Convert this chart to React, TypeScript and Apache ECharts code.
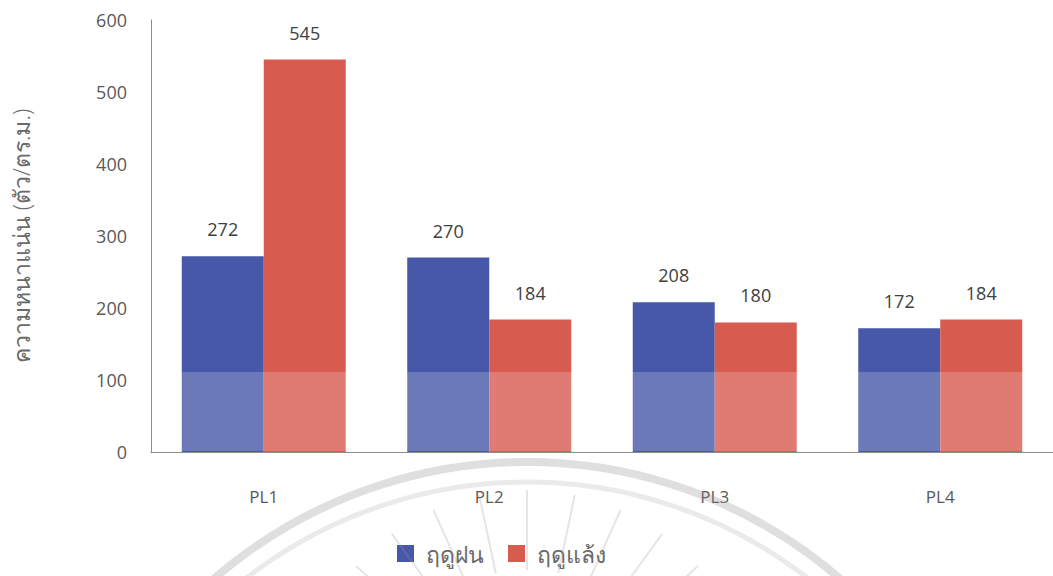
import React, { useEffect, useRef } from "react";
import * as echarts from "echarts";

const categories = ["PL1", "PL2", "PL3", "PL4"];
const rainySeason = [272, 270, 208, 172];
const drySeason = [545, 184, 180, 184];
const seriesNames = ["ฤดูฝน", "ฤดูแล้ง"];
const yAxisName = "ความหนาแน่น (ตัว/ตร.ม.)";

const FONT = "'Open Sans', 'Noto Sans', 'DejaVu Sans', sans-serif";

export default function App() {
  const ref = useRef<HTMLDivElement>(null);
  useEffect(() => {
    if (!ref.current) return;
    const chart = echarts.init(ref.current, null, { renderer: "svg" });
    const rays: any[] = [];
    const rayAngles = [-150, -138, -126, -114, -102, -90, -78, -66, -54, -42, -30];
    rayAngles.forEach((a) => {
      const rad = (a * Math.PI) / 180;
      const cx = 527, cy = 720;
      rays.push({
        type: "line",
        z: 100,
        silent: true,
        shape: {
          x1: cx + Math.cos(rad) * 150,
          y1: cy + Math.sin(rad) * 150,
          x2: cx + Math.cos(rad) * 230,
          y2: cy + Math.sin(rad) * 230,
        },
        style: { stroke: "rgba(150,150,150,0.25)", lineWidth: 2 },
      });
    });
    chart.setOption({
      animation: false,
      backgroundColor: "#ffffff",
      textStyle: { fontFamily: FONT },
      grid: { left: 151, top: 20, width: 904, height: 432, containLabel: false },
      legend: {
        data: seriesNames,
        bottom: 6,
        left: 392,
        itemWidth: 17,
        itemHeight: 17,
        itemGap: 24,
        icon: "rect",
        textStyle: {
          color: "#6a6a6a",
          fontSize: 23,
          fontFamily: FONT,
          fontWeight: 300,
          padding: [0, 0, 0, 7],
        },
      },
      xAxis: {
        type: "category",
        data: categories,
        axisLine: { show: true, lineStyle: { color: "#8c8c8c", width: 1 } },
        axisTick: { show: false },
        axisLabel: { color: "#595959", fontSize: 17, margin: 36, fontFamily: FONT },
      },
      yAxis: {
        type: "value",
        min: 0,
        max: 600,
        interval: 100,
        name: yAxisName,
        nameLocation: "middle",
        nameRotate: 90,
        nameGap: 119,
        nameTextStyle: { color: "#6a6a6a", fontSize: 23, fontFamily: FONT, fontWeight: 300 },
        axisLine: { show: true, lineStyle: { color: "#8c8c8c", width: 1 } },
        axisTick: { show: false },
        splitLine: { show: false },
        axisLabel: { color: "#595959", fontSize: 18, margin: 24, fontFamily: FONT },
      },
      series: [
        {
          name: seriesNames[0],
          type: "bar",
          data: rainySeason,
          barWidth: 82,
          barGap: "0%",
          itemStyle: { color: "#4858a8" },
          label: {
            show: true,
            position: "top",
            distance: 18,
            color: "#404040",
            fontSize: 18,
            fontFamily: FONT,
          },
        },
        {
          name: seriesNames[1],
          type: "bar",
          data: drySeason,
          barWidth: 82,
          barGap: "0%",
          itemStyle: { color: "#d75b4f" },
          label: {
            show: true,
            position: "top",
            distance: 18,
            color: "#404040",
            fontSize: 18,
            fontFamily: FONT,
          },
        },
      ],
      graphic: [
        {
          type: "rect",
          z: 100,
          silent: true,
          shape: { x: 152, y: 372, width: 901, height: 79 },
          style: { fill: "rgba(255,255,255,0.2)" },
        },
        {
          type: "arc",
          z: 100,
          silent: true,
          shape: { cx: 527, cy: 940, r: 478, startAngle: Math.PI * 1.1, endAngle: Math.PI * 1.9 },
          style: { stroke: "rgba(140,140,140,0.28)", lineWidth: 8, fill: "none" },
        },
        {
          type: "arc",
          z: 100,
          silent: true,
          shape: { cx: 527, cy: 940, r: 458, startAngle: Math.PI * 1.1, endAngle: Math.PI * 1.9 },
          style: { stroke: "rgba(140,140,140,0.18)", lineWidth: 5, fill: "none" },
        },
        ...rays,
      ],
    });
    return () => chart.dispose();
  }, []);
  return (
    <div
      ref={ref}
      style={{ position: "absolute", left: 0, top: 0, width: 1053, height: 576 }}
    />
  );
}
